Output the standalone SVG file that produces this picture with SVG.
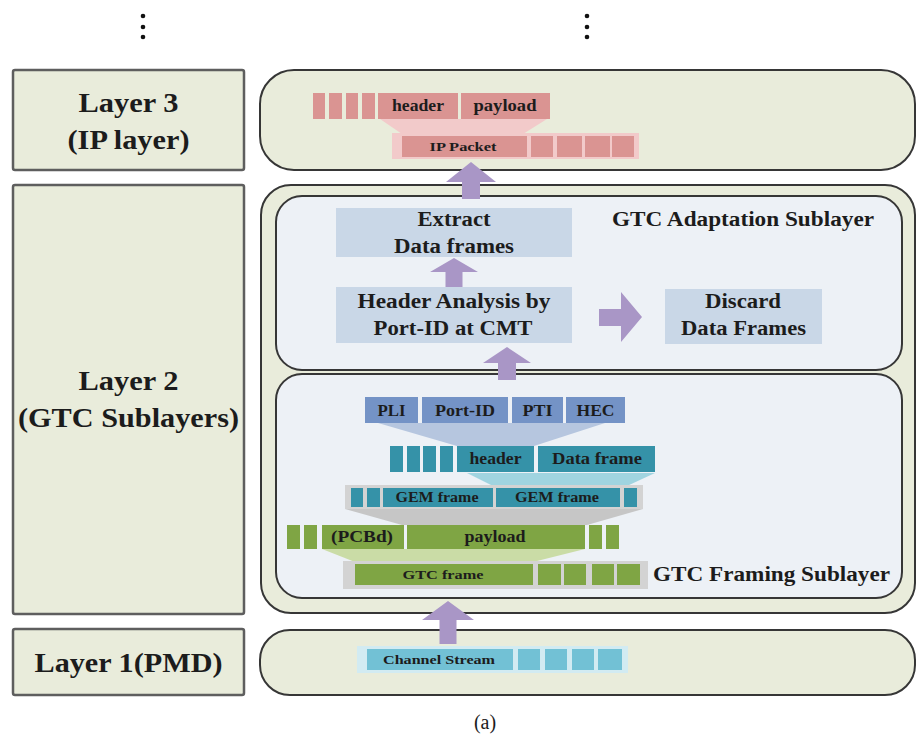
<svg xmlns="http://www.w3.org/2000/svg" width="917" height="736" viewBox="0 0 917 736">
  <style>
    .bg { fill: #ffffff; }
    .lbl { fill: #e9ecdb; stroke: #5e5e5e; stroke-width: 2.5; }
    .panel { fill: #e9ecdb; stroke: #363636; stroke-width: 2; }
    .sub { fill: #edf1f6; stroke: #363636; stroke-width: 2; }
    .step { fill: #c9d7e7; }
    .arrow { fill: #a996c6; }
    .t { font-family: "Liberation Serif", "Times New Roman", serif; font-weight: bold; fill: #1c1c1c; text-anchor: middle; }
    .big { font-size: 27px; }
    .mid { font-size: 20px; }
    .fld { font-size: 16px; }
    .sm { font-size: 13px; }
    .pinkD { fill: #da9492; }
    .pinkL { fill: #f2caca; }
    .blue { fill: #7493c6; }
    .blueL { fill: #b6c6df; }
    .teal { fill: #3592a8; }
    .cyanL { fill: #a0d4e0; }
    .grayL { fill: #d3d3d3; }
    .gray { fill: #c6c6c6; }
    .green { fill: #7fa544; }
    .greenL { fill: #cadca6; }
    .chan { fill: #72c1d5; }
    .chanL { fill: #d2ebf2; }
  </style>

  <rect class="bg" x="0" y="0" width="917" height="736"/>

  <!-- continuation dots above the stack -->
  <g id="dots" fill="#111">
    <circle cx="143" cy="16" r="2.3"/>
    <circle cx="143" cy="27" r="2.3"/>
    <circle cx="143" cy="37" r="2.3"/>
    <circle cx="587" cy="16" r="2.3"/>
    <circle cx="587" cy="27" r="2.3"/>
    <circle cx="587" cy="37" r="2.3"/>
  </g>

  <!-- layer names on the left -->
  <g id="label-layer3">
    <rect class="lbl" x="13" y="70" width="231" height="100" rx="2"/>
    <text class="t big" x="128.5" y="112" textLength="100" lengthAdjust="spacingAndGlyphs">Layer 3</text>
    <text class="t big" x="128.5" y="149" textLength="122" lengthAdjust="spacingAndGlyphs">(IP layer)</text>
  </g>
  <g id="label-layer2">
    <rect class="lbl" x="13" y="185" width="231" height="429" rx="2"/>
    <text class="t big" x="128.5" y="390" textLength="100" lengthAdjust="spacingAndGlyphs">Layer 2</text>
    <text class="t big" x="128.5" y="427" textLength="221" lengthAdjust="spacingAndGlyphs">(GTC Sublayers)</text>
  </g>
  <g id="label-layer1">
    <rect class="lbl" x="13" y="629" width="231" height="66" rx="2"/>
    <text class="t big" x="128.5" y="672" textLength="188" lengthAdjust="spacingAndGlyphs">Layer 1(PMD)</text>
  </g>

  <!-- Layer 3: IP packet -->
  <g id="layer3">
    <rect class="panel" x="260" y="70" width="655" height="100" rx="34"/>
    <rect class="pinkD" x="313" y="93" width="12" height="26"/>
    <rect class="pinkD" x="329" y="93" width="13" height="26"/>
    <rect class="pinkD" x="346" y="93" width="12" height="26"/>
    <rect class="pinkD" x="362" y="93" width="13" height="26"/>
    <rect class="pinkD" x="378" y="93" width="80" height="26"/>
    <rect class="pinkD" x="461" y="93" width="89" height="26"/>
    <text class="t fld" x="418" y="111" textLength="52" lengthAdjust="spacingAndGlyphs">header</text>
    <text class="t fld" x="505" y="111" textLength="63" lengthAdjust="spacingAndGlyphs">payload</text>
    <polygon class="pinkL" points="380,119 547,119 523,134 402,134"/>
    <rect class="pinkL" x="392" y="133" width="247" height="26"/>
    <rect class="pinkD" x="402" y="136" width="125" height="21"/>
    <rect class="pinkD" x="531" y="136" width="22" height="21"/>
    <rect class="pinkD" x="557" y="136" width="25" height="21"/>
    <rect class="pinkD" x="585" y="136" width="25" height="21"/>
    <rect class="pinkD" x="612" y="136" width="22" height="21"/>
    <text class="t sm" x="463" y="151" textLength="67" lengthAdjust="spacingAndGlyphs">IP Packet</text>
  </g>

  <!-- Layer 2 container -->
  <g id="layer2">
    <rect class="panel" x="261" y="185" width="654" height="428" rx="30"/>
  </g>

  <!-- GTC adaptation sublayer -->
  <g id="adaptation">
    <rect class="sub" x="276" y="196" width="626" height="174" rx="26"/>
    <text class="t mid" x="612" y="226" text-anchor="start" style="text-anchor:start" textLength="262" lengthAdjust="spacingAndGlyphs">GTC Adaptation Sublayer</text>
  </g>
  <g id="extract">
    <rect class="step" x="336" y="208" width="236" height="49"/>
    <text class="t mid" x="454" y="226" textLength="73" lengthAdjust="spacingAndGlyphs">Extract</text>
    <text class="t mid" x="454" y="253" textLength="120" lengthAdjust="spacingAndGlyphs">Data frames</text>
  </g>
  <g id="header-analysis">
    <rect class="step" x="336" y="287" width="236" height="56"/>
    <text class="t mid" x="454" y="308" textLength="193" lengthAdjust="spacingAndGlyphs">Header Analysis by</text>
    <text class="t mid" x="453" y="335" textLength="159" lengthAdjust="spacingAndGlyphs">Port-ID at CMT</text>
  </g>
  <g id="discard">
    <rect class="step" x="665" y="289" width="157" height="55"/>
    <text class="t mid" x="743" y="308" textLength="76" lengthAdjust="spacingAndGlyphs">Discard</text>
    <text class="t mid" x="743.5" y="335" textLength="125" lengthAdjust="spacingAndGlyphs">Data Frames</text>
  </g>

  <!-- GTC framing sublayer -->
  <g id="framing">
    <rect class="sub" x="276" y="374" width="626" height="224" rx="26"/>
    <text class="t mid" x="653" y="581" style="text-anchor:start" textLength="237" lengthAdjust="spacingAndGlyphs">GTC Framing Sublayer</text>
  </g>
  <g id="gem-header-fields">
    <rect class="blue" x="365" y="397" width="53" height="26"/>
    <rect class="blue" x="422" y="397" width="86" height="26"/>
    <rect class="blue" x="512" y="397" width="51" height="26"/>
    <rect class="blue" x="566" y="397" width="59" height="26"/>
    <text class="t fld" x="391.5" y="416" textLength="28" lengthAdjust="spacingAndGlyphs">PLI</text>
    <text class="t fld" x="465" y="416" textLength="60" lengthAdjust="spacingAndGlyphs">Port-ID</text>
    <text class="t fld" x="537.5" y="416" textLength="30" lengthAdjust="spacingAndGlyphs">PTI</text>
    <text class="t fld" x="595.5" y="416" textLength="38" lengthAdjust="spacingAndGlyphs">HEC</text>
    <polygon class="blueL" points="378,423 605,423 534,446 457,446"/>
  </g>
  <g id="data-frame">
    <rect class="teal" x="390" y="446" width="13" height="26"/>
    <rect class="teal" x="407" y="446" width="13" height="26"/>
    <rect class="teal" x="423" y="446" width="13" height="26"/>
    <rect class="teal" x="440" y="446" width="13" height="26"/>
    <rect class="teal" x="457" y="446" width="77" height="26"/>
    <rect class="teal" x="538" y="446" width="117" height="26"/>
    <text class="t fld" x="495.5" y="464" textLength="52" lengthAdjust="spacingAndGlyphs">header</text>
    <text class="t fld" x="597" y="464" textLength="90" lengthAdjust="spacingAndGlyphs">Data frame</text>
    <polygon class="cyanL" points="467,473 655,473 627,486 493,486"/>
  </g>
  <g id="gem-frames">
    <rect class="grayL" x="345" y="485" width="298" height="24"/>
    <rect class="teal" x="351" y="488" width="12" height="19"/>
    <rect class="teal" x="367" y="488" width="13" height="19"/>
    <rect class="teal" x="383" y="488" width="110" height="19"/>
    <rect class="teal" x="496" y="488" width="124" height="19"/>
    <rect class="teal" x="624" y="488" width="13" height="19"/>
    <text class="t" style="font-size:14px" x="437" y="502" textLength="83" lengthAdjust="spacingAndGlyphs">GEM frame</text>
    <text class="t" style="font-size:14px" x="557" y="502" textLength="84" lengthAdjust="spacingAndGlyphs">GEM frame</text>
    <polygon class="gray" points="345,509 643,509 587,525 402,525"/>
  </g>
  <g id="gtc-payload">
    <rect class="green" x="287" y="525" width="13" height="24"/>
    <rect class="green" x="304" y="525" width="13" height="24"/>
    <rect class="green" x="322" y="525" width="82" height="24"/>
    <rect class="green" x="407" y="525" width="178" height="24"/>
    <rect class="green" x="589" y="525" width="13" height="24"/>
    <rect class="green" x="606" y="525" width="13" height="24"/>
    <text class="t fld" x="362" y="542" textLength="62" lengthAdjust="spacingAndGlyphs">(PCBd)</text>
    <text class="t fld" x="495" y="542" textLength="61" lengthAdjust="spacingAndGlyphs">payload</text>
    <polygon class="greenL" points="322,549 585,549 533,562 355,562"/>
  </g>
  <g id="gtc-frame">
    <rect class="grayL" x="343" y="561" width="305" height="28"/>
    <rect class="green" x="355" y="564" width="178" height="21"/>
    <rect class="green" x="538" y="564" width="23" height="21"/>
    <rect class="green" x="564" y="564" width="22" height="21"/>
    <rect class="green" x="592" y="564" width="22" height="21"/>
    <rect class="green" x="617" y="564" width="23" height="21"/>
    <text class="t sm" x="443" y="579" textLength="81" lengthAdjust="spacingAndGlyphs">GTC frame</text>
  </g>

  <!-- Layer 1: physical channel -->
  <g id="layer1">
    <rect class="panel" x="260" y="630" width="655" height="65" rx="30"/>
    <rect class="chanL" x="357" y="646" width="271" height="27"/>
    <rect class="chan" x="367" y="649" width="146" height="21"/>
    <rect class="chan" x="518" y="649" width="22" height="21"/>
    <rect class="chan" x="545" y="649" width="22" height="21"/>
    <rect class="chan" x="572" y="649" width="22" height="21"/>
    <rect class="chan" x="598" y="649" width="24" height="21"/>
    <text class="t sm" x="439" y="664" textLength="112" lengthAdjust="spacingAndGlyphs">Channel Stream</text>
  </g>

  <!-- block arrows -->
  <g id="connectors">
    <polygon class="arrow" points="471,162 496,182 480,182 480,199 462,199 462,182 446,182"/>
    <polygon class="arrow" points="454,258 478,272 462.5,272 462.5,287 445.5,287 445.5,272 430,272"/>
    <polygon class="arrow" points="507,347 531,363 516,363 516,380 498,380 498,363 483,363"/>
    <polygon class="arrow" points="448,601 474,620 456.5,620 456.5,644 439.5,644 439.5,620 422,620"/>
    <polygon class="arrow" points="642,317 621,292 621,309 599,309 599,326 621,326 621,342"/>
  </g>

  <text x="485" y="729" style="font-family:'Liberation Serif','Times New Roman',serif;font-size:20px;fill:#1c1c1c" text-anchor="middle">(a)</text>
</svg>
